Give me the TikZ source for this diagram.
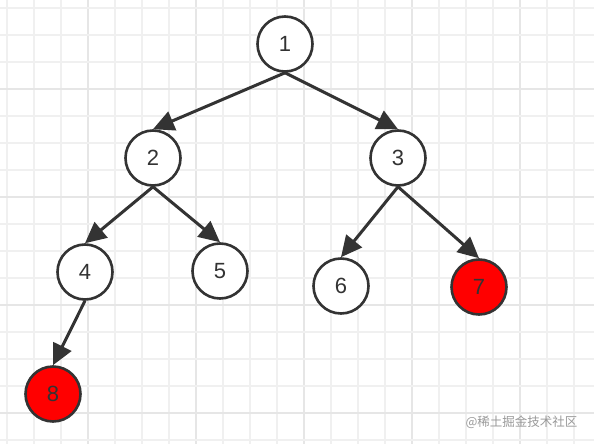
\documentclass[tikz,border=0pt]{standalone}
\usepackage{fontspec}
\setmainfont{Liberation Sans}
\newfontfamily\cjk{Noto Sans CJK SC}
\usetikzlibrary{arrows.meta}
\definecolor{gridminor}{HTML}{F0F0F0}
\definecolor{gridmajor}{HTML}{E6E6E6}
\definecolor{edgecol}{HTML}{333333}
\definecolor{redfill}{HTML}{FF0000}
\tikzset{
  treenode/.style={circle, draw=edgecol, line width=2.6pt, fill=white, minimum size=55pt, inner sep=0pt, font=\fontsize{22}{22}\selectfont, text=edgecol},
  rednode/.style={treenode, fill=redfill},
  link/.style={draw=edgecol, line width=3pt, -{Triangle[length=21pt,width=20pt]}},
}
\begin{document}
\begin{tikzpicture}[x=1pt,y=-1pt]
\useasboundingbox (0,0) rectangle (594,444);
\fill[white] (0,0) rectangle (594,444);
% grid
\foreach \k in {0,...,21} {
  \pgfmathtruncatemacro{\gx}{7+27*\k}
  \pgfmathtruncatemacro{\gm}{mod(\k+1,4)}
  \ifnum\gm=0
    \draw[gridmajor, line width=1.6pt] (\gx,0) -- (\gx,444);
  \else
    \draw[gridminor, line width=1.2pt] (\gx,0) -- (\gx,444);
  \fi
}
\foreach \k in {0,...,16} {
  \pgfmathtruncatemacro{\gy}{8+27*\k}
  \pgfmathtruncatemacro{\gm}{mod(\k+1,4)}
  \ifnum\gm=0
    \draw[gridmajor, line width=1.6pt] (0,\gy) -- (594,\gy);
  \else
    \draw[gridminor, line width=1.2pt] (0,\gy) -- (594,\gy);
  \fi
}
% nodes
\node[treenode] (n1) at (285,44) {1};
\node[treenode] (n2) at (153,158) {2};
\node[treenode] (n3) at (398,158) {3};
\node[treenode] (n4) at (85,272) {4};
\node[treenode] (n5) at (220,271) {5};
\node[treenode] (n6) at (341,286) {6};
\node[rednode] (n7) at (479,287) {7};
\node[rednode] (n8) at (53,394) {8};
% edges
\draw[link] (n1.south) -- (n2.north);
\draw[link] (n1.south) -- (n3.north);
\draw[link] (n2.south) -- (n4.north);
\draw[link] (n2.south) -- (n5.north);
\draw[link] (n3.south) -- (n6.north);
\draw[link] (n3.south) -- (n7.north);
\draw[link] (n4.south) -- (n8.north);
% watermark
\node[font=\cjk\fontsize{12.5}{12.5}\selectfont, text=black!40, anchor=east] (wm) at (581,422) {@稀土掘金技术社区};
\end{tikzpicture}
\end{document}
